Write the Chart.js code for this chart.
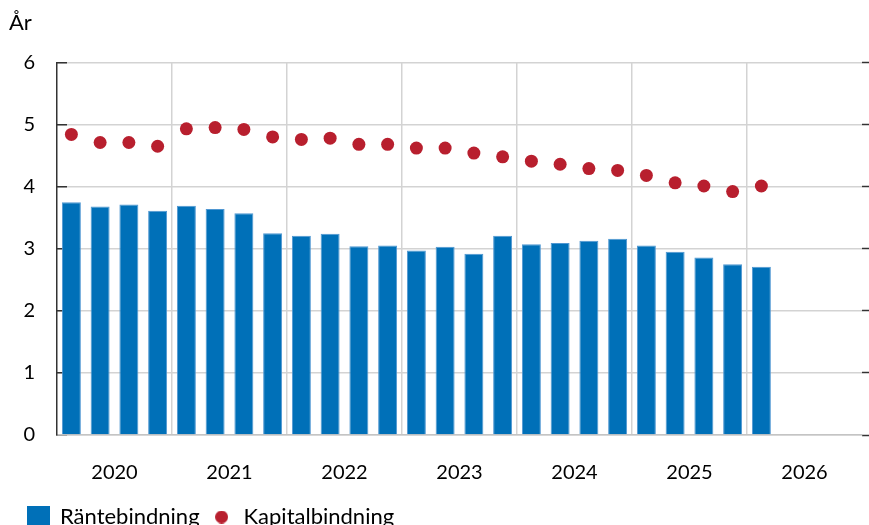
<!DOCTYPE html>
<html>
<head>
<meta charset="utf-8">
<script src="https://cdn.jsdelivr.net/npm/chart.js@4/dist/chart.umd.min.js"></script>
<style>
html,body{margin:0;padding:0;overflow:hidden;background:#fff;}
#wrap{width:869px;height:538px;position:relative;}
</style>
</head>
<body>
<div id="wrap"><canvas id="c"></canvas></div>
<script>
// ---- data ----
const years = ['2020','2021','2022','2023','2024','2025','2026'];
const quarters = [];
years.forEach(y => { for (let q = 1; q <= 4; q++) quarters.push(y + ' K' + q); });
const rantebindning = [3.75,3.68,3.71,3.61,3.69,3.64,3.57,3.25,3.21,3.24,3.04,3.05,2.97,3.03,2.92,3.21,3.07,3.09,3.13,3.16,3.05,2.95,2.86,2.75,2.71];
const kapitalbindning = [4.84,4.71,4.71,4.65,4.93,4.95,4.92,4.80,4.76,4.78,4.68,4.68,4.62,4.62,4.54,4.48,4.41,4.36,4.29,4.26,4.18,4.06,4.01,3.92,4.01];
const seriesNames = ['Räntebindning','Kapitalbindning'];
const yTicks = [0,1,2,3,4,5,6];

const BLUE = '#0070b8';
const RED = '#b81f2e';
const GRID = '#d3d3d3';
const FONT = 'Lato';

function legendImg(kind){
  const c = document.createElement('canvas');
  const s = kind === 'rect' ? 23 : 13;
  c.width = s; c.height = s;
  const g = c.getContext('2d');
  if (kind === 'rect') { g.fillStyle = BLUE; g.fillRect(0,0,s,s); }
  else { g.fillStyle = RED; g.beginPath(); g.arc(s/2,s/2,s/2,0,Math.PI*2); g.fill(); }
  return c;
}
const sqImg = legendImg('rect');
const dotImg = legendImg('circle');

const shiftLegend = {
  id: 'shiftLegend',
  afterLayout(chart) { if (chart.legend) { chart.legend.left += 7; chart.legend.right += 7; } }
};

new Chart(document.getElementById('c'), {
  plugins: [shiftLegend],
  data: {
    labels: quarters,
    datasets: [
      {
        type: 'bar', label: seriesNames[0], data: rantebindning,
        backgroundColor: BLUE, borderColor: '#4f97d2', borderWidth: 1,
        barPercentage: 0.66, categoryPercentage: 1.0, order: 2,
        xAxisID: 'x', yAxisID: 'y'
      },
      {
        type: 'line', label: seriesNames[1], data: kapitalbindning,
        showLine: false, pointStyle: 'circle', pointRadius: 6.5, pointHoverRadius: 6.5,
        pointBackgroundColor: RED, pointBorderColor: RED, pointBorderWidth: 0,
        order: 1, xAxisID: 'x', yAxisID: 'y'
      }
    ]
  },
  options: {
    responsive: true, maintainAspectRatio: false, animation: false,
    layout: { padding: { left: 9, right: 0, top: 0, bottom: 0 } },
    plugins: {
      tooltip: { enabled: false },
      title: {
        display: true, text: 'År', align: 'start', color: '#000',
        font: { family: FONT, size: 22, weight: 'normal' },
        padding: { top: 10, bottom: 26 }
      },
      legend: {
        position: 'bottom', align: 'start',
        labels: {
          usePointStyle: true, pointStyleWidth: 22, color: '#000',
          font: { family: FONT, size: 22 }, padding: 11,
          generateLabels: () => [
            { text: seriesNames[0], pointStyle: sqImg, fillStyle: BLUE, strokeStyle: BLUE, lineWidth: 0, hidden: false, datasetIndex: 0 },
            { text: seriesNames[1], pointStyle: dotImg, fillStyle: RED, strokeStyle: RED, lineWidth: 0, hidden: false, datasetIndex: 1 }
          ]
        }
      }
    },
    scales: {
      x: { type: 'category', display: false, offset: true, grid: { display: false } },
      x2: {
        type: 'category', labels: years, position: 'bottom', offset: true,
        afterFit: s => { s.height = 60; },
        grid: {
          offset: true, drawTicks: false, lineWidth: 1.5,
          color: ctx => (ctx.type !== 'tick' || ctx.index === 0) ? 'rgba(0,0,0,0)' : GRID
        },
        border: { display: true, color: '#c4c4c4', width: 1.5 },
        ticks: { color: '#000', font: { family: FONT, size: 20 }, padding: 26, maxRotation: 0, autoSkip: false }
      },
      y: {
        position: 'left', min: 0, max: 6,
        afterFit: s => { s.width = 48; },
        afterBuildTicks: s => { s.ticks = yTicks.map(v => ({ value: v })); },
        grid: { color: GRID, lineWidth: 1.5, tickLength: -10, tickColor: '#333', tickWidth: 1.5 },
        border: { display: true, color: '#333', width: 1.5 },
        ticks: { color: '#000', font: { family: FONT, size: 20 }, padding: 32 }
      },
      y2: {
        position: 'right', min: 0, max: 6,
        afterBuildTicks: s => { s.ticks = yTicks.map(v => ({ value: v })); },
        grid: { drawOnChartArea: false, tickLength: 7, tickColor: '#333', tickWidth: 1.5 },
        border: { display: false },
        ticks: { display: false }
      }
    }
  }
});
</script>
</body>
</html>
